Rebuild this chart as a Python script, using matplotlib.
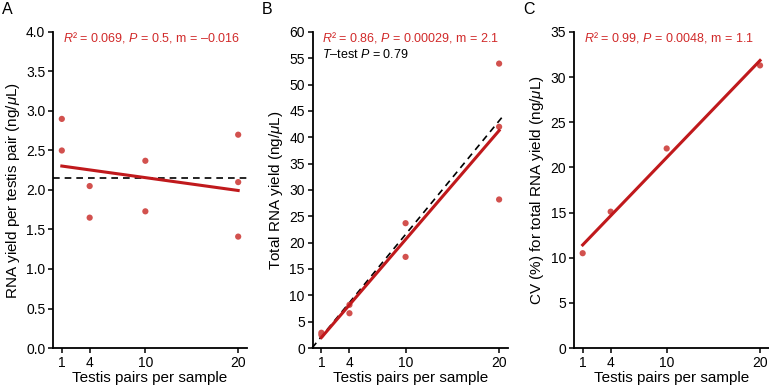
import numpy as np
import matplotlib
matplotlib.use("Agg")
import matplotlib.pyplot as plt

plt.rcParams['font.family'] = ['Liberation Sans', 'DejaVu Sans']
plt.rcParams['mathtext.fontset'] = 'custom'
plt.rcParams['mathtext.rm'] = 'Liberation Sans'
plt.rcParams['mathtext.it'] = 'Liberation Sans:italic'

# Data
pairs = [1, 1, 4, 4, 10, 10, 20, 20, 20]
yield_per_pair = [2.9, 2.5, 2.05, 1.65, 2.37, 1.73, 2.7, 2.1, 1.41]
total_yield = [2.9, 2.5, 8.2, 6.6, 23.7, 17.3, 54.0, 42.0, 28.2]
cv_pairs = [1, 4, 10, 20]
cv_values = [10.5, 15.1, 22.1, 31.3]
x_ticks = [1, 4, 10, 20]

ann_A = r"$\mathit{R}$² = 0.069, $\mathit{P}$ = 0.5, m = –0.016"
ann_B = r"$\mathit{R}$² = 0.86, $\mathit{P}$ = 0.00029, m = 2.1"
ann_B2 = r"$\mathit{T}$–test $\mathit{P}$ = 0.79"
ann_C = r"$\mathit{R}$² = 0.99, $\mathit{P}$ = 0.0048, m = 1.1"

RED_LINE = '#C0191C'
RED_PT = '#D2514E'
RED_TXT = '#D12A2A'

W, H = 769, 385
fig = plt.figure(figsize=(W / 100, H / 100), dpi=100)

def add_ax(left_px, right_px, top_px=32, bottom_px=348):
    return fig.add_axes([left_px / W, (H - bottom_px) / H,
                         (right_px - left_px) / W, (bottom_px - top_px) / H])

def style(ax, ylim, yticks, ylabel):
    ax.set_xlim(0.05, 20.95)
    ax.set_ylim(*ylim)
    ax.set_xticks(x_ticks)
    ax.set_yticks(yticks)
    for s in ['top', 'right']:
        ax.spines[s].set_visible(False)
    for s in ['left', 'bottom']:
        ax.spines[s].set_linewidth(1.3)
    ax.tick_params(direction='out', length=3.5, width=1.1, labelsize=10, pad=2, colors='black')
    ax.set_xlabel('Testis pairs per sample', fontsize=11, labelpad=1)
    ax.set_ylabel(ylabel, fontsize=11, labelpad=3)

xs = np.array(pairs, dtype=float)
fit_x = np.array([1.0, 20.0])
ANN_FS = 9.0

# Panel A
axA = add_ax(53, 247)
style(axA, (0, 4), np.arange(0, 4.01, 0.5), r'RNA yield per testis pair (ng/$\mu$L)')
axA.set_yticklabels([f'{v:.1f}' for v in np.arange(0, 4.01, 0.5)])
axA.scatter(pairs, yield_per_pair, s=20, color=RED_PT, edgecolors='none', zorder=3)
mA = np.mean(yield_per_pair)
axA.axhline(mA, color='black', lw=1.2, ls=(0, (4, 3)), zorder=2)
pA = np.polyfit(xs, yield_per_pair, 1)
axA.plot(fit_x, np.polyval(pA, fit_x), color=RED_LINE, lw=2.2, zorder=4)
axA.text(0.05, 0.983, ann_A, transform=axA.transAxes, color=RED_TXT, fontsize=ANN_FS,
         ha='left', va='center')

# Panel B
axB = add_ax(312.5, 508)
style(axB, (0, 60), np.arange(0, 61, 5), r'Total RNA yield (ng/$\mu$L)')
axB.scatter(pairs, total_yield, s=20, color=RED_PT, edgecolors='none', zorder=3)
dx = np.array([0.0, 20.45])
axB.plot(dx, mA * dx, color='black', lw=1.2, ls=(0, (4, 3)), zorder=2, clip_on=False)
pB = np.polyfit(xs, total_yield, 1)
axB.plot(fit_x, np.polyval(pB, fit_x), color=RED_LINE, lw=2.2, zorder=4)
axB.text(0.05, 0.983, ann_B, transform=axB.transAxes, color=RED_TXT, fontsize=ANN_FS,
         ha='left', va='center')
axB.text(0.05, 0.928, ann_B2, transform=axB.transAxes, color='black', fontsize=ANN_FS,
         ha='left', va='center')

# Panel C
axC = add_ax(573.8, 768.9)
style(axC, (0, 35), np.arange(0, 36, 5), r'CV (%) for total RNA yield (ng/$\mu$L)')
axC.scatter(cv_pairs, cv_values, s=20, color=RED_PT, edgecolors='none', zorder=3)
pC = np.polyfit(np.array(cv_pairs, float), cv_values, 1)
axC.plot(fit_x, np.polyval(pC, fit_x), color=RED_LINE, lw=2.2, zorder=4)
axC.text(0.05, 0.983, ann_C, transform=axC.transAxes, color=RED_TXT, fontsize=ANN_FS,
         ha='left', va='center')

for lbl, xp in [('A', 2), ('B', 262), ('C', 523)]:
    fig.text(xp / W, 1 - 9 / H, lbl, fontsize=11.5, ha='left', va='center')

fig.savefig('out.png', dpi=100)
